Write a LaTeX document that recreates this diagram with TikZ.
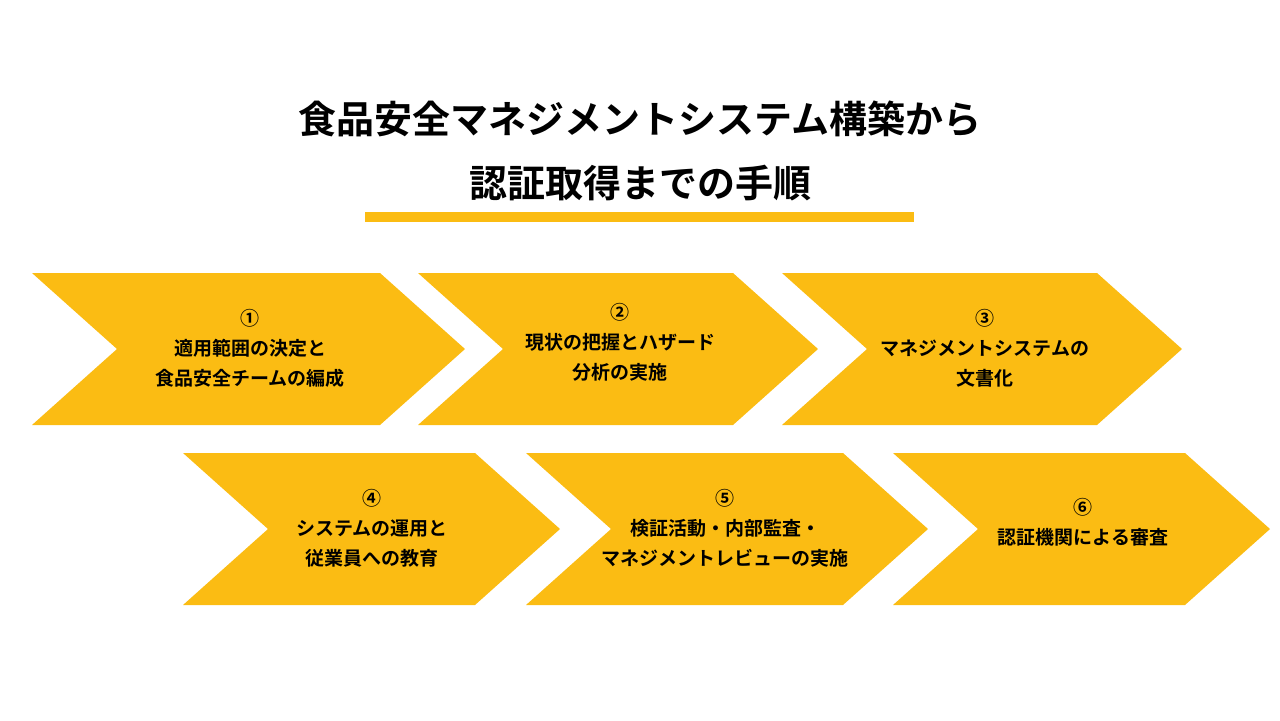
\documentclass[tikz,border=0pt]{standalone}
\usepackage{fontspec}
\setmainfont{Noto Sans CJK JP}[BoldFont={* Bold}]
\usetikzlibrary{positioning}
\definecolor{chevyellow}{HTML}{FBBC13}
\tikzset{
  chev/.style={fill=chevyellow, draw=none},
  chevtext/.style={align=center, font=\bfseries\fontsize{9.5pt}{15pt}\selectfont},
  titletext/.style={align=center, font=\bfseries\fontsize{19pt}{32pt}\selectfont}
}
% chevron: left x, top y, tip x
\newcommand{\chevshape}[3]{%
  \fill[chev] (#1,#2) -- (#3-85,#2) -- (#3,#2+76) -- (#3-85,#2+152) -- (#1,#2+152) -- (#1+85,#2+76) -- cycle;}
\begin{document}
\begin{tikzpicture}[x=0.5pt,y=-0.5pt]
  \useasboundingbox (0,0) rectangle (1280,720);

  \node[titletext] (title) at (640,151) {食品安全マネジメントシステム構築から\\認証取得までの手順};
  \fill[chevyellow] (365,212) rectangle (914,222);

  % top row
  \chevshape{32}{273}{465}
  \chevshape{418}{273}{818}
  \chevshape{782}{273}{1182}
  % bottom row
  \chevshape{183}{453}{560}
  \chevshape{526}{453}{928}
  \chevshape{893}{453}{1270}

  \node[chevtext] (s1) at (250,348) {①\\適用範囲の決定と\\食品安全チームの編成};
  \node[chevtext] (s2) at (620,342) {②\\現状の把握とハザード\\分析の実施};
  \node[chevtext] (s3) at (985,348) {③\\マネジメントシステムの\\文書化};
  \node[chevtext] (s4) at (372,528) {④\\システムの運用と\\従業員への教育};
  \node[chevtext] (s5) at (725,528) {⑤\\検証活動・内部監査・\\マネジメントレビューの実施};
  \node[chevtext] (s6) at (1083,522) {⑥\\認証機関による審査};
\end{tikzpicture}
\end{document}
